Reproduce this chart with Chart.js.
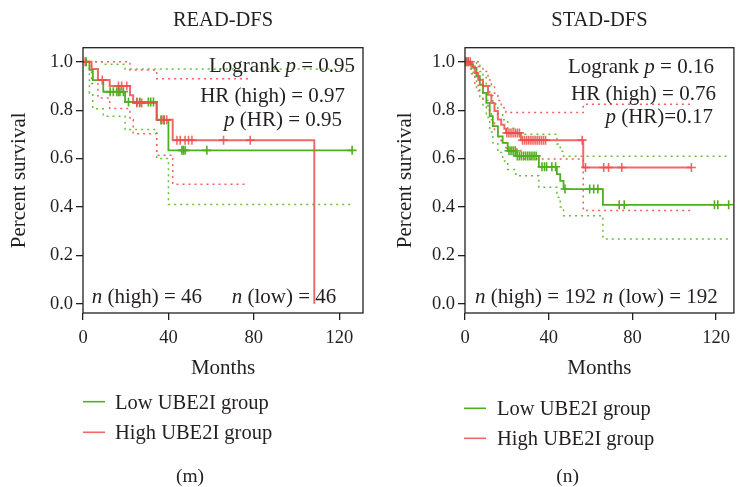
<!DOCTYPE html>
<html>
<head>
<meta charset="utf-8">
<script src="https://cdn.jsdelivr.net/npm/chart.js@4.4.1/dist/chart.umd.min.js"></script>
<style>
  html, body { margin: 0; padding: 0; background: #fff; }
  #wrap { position: relative; width: 740px; height: 487px; overflow: hidden; }
  canvas { position: absolute; top: 0; }
  #cRead { left: 0; }
  #cStad { left: 370px; }
</style>
</head>
<body>
<div id="wrap">
  <canvas id="cRead" width="370" height="487"></canvas>
  <canvas id="cStad" width="370" height="487"></canvas>
</div>
<script>
// ---- shared axis ticks ----
const monthTicks = [0, 40, 80, 120];
const survivalTicks = [0, 0.2, 0.4, 0.6, 0.8, 1.0];
const groupLabels = ['Low UBE2I group', 'High UBE2I group'];

// ---- READ-DFS: Kaplan-Meier steps (time in months, survival fraction) ----
const readLowTime = [0, 3, 4.6, 9.5, 19.7, 34.5, 40, 126];
const readLowSurv = [1, 0.966, 0.924, 0.876, 0.834, 0.759, 0.634, 0.634];
const readLowUpperTime = [0, 9.5, 19.7, 126];
const readLowUpperSurv = [1, 0.99, 0.97, 0.97];
const readLowLowerTime = [0, 3, 4.6, 9.5, 19.7, 34.5, 40, 126];
const readLowLowerSurv = [1, 0.87, 0.806, 0.775, 0.72, 0.60, 0.41, 0.41];
const readLowCensor = [1.5, 12.7, 14.2, 15.8, 16.6, 17.3, 18.9, 21.3, 25.3, 26.6, 30.6, 31.7, 33, 36.5, 38, 46.3, 47, 47.8, 58, 126];

const readHighTime = [0, 4, 7, 12.5, 22, 23.5, 34.5, 42, 108.3];
const readHighSurv = [1, 0.97, 0.925, 0.9, 0.862, 0.83, 0.76, 0.676, 0];
const readHighUpperTime = [0, 22, 34.5, 78.3];
const readHighUpperSurv = [1, 0.966, 0.93, 0.93];
const readHighLowerTime = [0, 4, 7, 12.5, 22, 23.5, 34.5, 42, 76];
const readHighLowerSurv = [1, 0.91, 0.85, 0.807, 0.76, 0.703, 0.614, 0.494, 0.494];
const readHighCensor = [1, 9, 16.6, 18.1, 20.5, 25.2, 26.5, 27.5, 36.9, 37.8, 39.2, 44, 45.5, 47.8, 49.4, 51, 65.8, 78.3];

// ---- STAD-DFS ----
const stadLowTime = [0, 2, 3.9, 5.5, 7.1, 8.6, 10.2, 11.8, 13.3, 15.7, 18, 20.4, 24.3, 35.3, 43.9, 45.5, 47.1, 65.9, 126];
const stadLowSurv = [1, 0.99, 0.975, 0.94, 0.905, 0.871, 0.83, 0.775, 0.734, 0.692, 0.665, 0.632, 0.611, 0.566, 0.536, 0.508, 0.474, 0.409, 0.409];
const stadLowUpperTime = [0, 5.5, 7.1, 8.6, 10.2, 11.8, 13.3, 15.7, 18, 20.4, 24.3, 43.9, 45.5, 47.1, 126];
const stadLowUpperSurv = [1, 0.985, 0.96, 0.935, 0.905, 0.86, 0.825, 0.785, 0.76, 0.725, 0.70, 0.66, 0.63, 0.61, 0.61];
const stadLowLowerTime = [0, 2, 3.9, 5.5, 7.1, 8.6, 10.2, 11.8, 13.3, 15.7, 18, 20.4, 24.3, 35.3, 43.9, 45.5, 47.1, 65.9, 126];
const stadLowLowerSurv = [1, 0.97, 0.94, 0.89, 0.855, 0.815, 0.77, 0.71, 0.665, 0.625, 0.59, 0.555, 0.529, 0.481, 0.44, 0.40, 0.364, 0.268, 0.268];
const stadLowCensor = [0.5, 1.5, 21, 22, 23, 24, 25, 26, 27, 28, 29, 30, 31, 32, 33, 34, 36.8, 38, 39, 41.5, 43.3, 47.8, 59.6, 61.5, 63.5, 73.7, 76.1, 119.2, 120.8, 126];

const stadHighTime = [0, 3.1, 4.7, 6.3, 8.6, 11, 12.6, 14.1, 15.7, 17.3, 18.8, 19.6, 26.7, 56.5, 108.2];
const stadHighSurv = [1, 0.98, 0.953, 0.926, 0.9, 0.864, 0.83, 0.796, 0.761, 0.74, 0.723, 0.706, 0.676, 0.563, 0.563];
const stadHighUpperTime = [0, 6.3, 8.6, 11, 12.6, 14.1, 15.7, 17.3, 19.6, 56.5, 108.2];
const stadHighUpperSurv = [1, 0.98, 0.96, 0.925, 0.9, 0.87, 0.84, 0.81, 0.79, 0.824, 0.824];
const stadHighLowerTime = [0, 3.1, 4.7, 6.3, 8.6, 11, 12.6, 14.1, 15.7, 17.3, 19.6, 26.7, 56.5, 108.2];
const stadHighLowerSurv = [1, 0.95, 0.91, 0.88, 0.84, 0.8, 0.76, 0.72, 0.69, 0.665, 0.64, 0.598, 0.385, 0.385];
const stadHighCensor = [0.5, 1.5, 2.5, 20, 21, 22, 23, 24, 25, 26, 27.5, 28.5, 29.5, 30.5, 31.5, 32.5, 33.5, 34.5, 35.5, 36.5, 37.5, 38.5, 56, 57.6, 66.3, 68.6, 74.9, 108.2];

// ---- statistics text (italic pieces wrapped in arrays) ----
const readStats = [
  ['Logrank ', ['p'], ' = 0.95'],
  ['HR (high) = 0.97'],
  [['p'], ' (HR) = 0.95']
];
const readCounts = [[['n'], ' (high) = 46'], [['n'], ' (low) = 46']];
const stadStats = [
  ['Logrank ', ['p'], ' = 0.16'],
  ['HR (high) = 0.76'],
  [['p'], ' (HR)=0.17']
];
const stadCounts = [[['n'], ' (high) = 192'], [['n'], ' (low) = 192']];

// ---- styling ----
const FAMILY = '"Liberation Serif", "Times New Roman", serif';
const INK = '#231f20';
const GREEN = 'rgb(78,176,28)';
const GREEN_CI = 'rgb(104,192,54)';
const RED = 'rgba(238,78,78,0.85)';
const RED_CI = 'rgb(244,96,96)';

Chart.defaults.font.family = FAMILY;
Chart.defaults.color = INK;

function stepAt(times, surv, t) {
  let v = surv[0];
  for (let i = 0; i < times.length; i++) { if (times[i] <= t) v = surv[i]; }
  return v;
}
const pts = (times, surv) => times.map((t, i) => ({ x: t, y: surv[i] }));

function curve(times, surv, color, width, dash, order) {
  return {
    data: pts(times, surv), borderColor: color, borderWidth: width,
    borderDash: dash || [], stepped: 'before', pointRadius: 0,
    fill: false, order: order, borderCapStyle: 'butt'
  };
}
function censor(times, stepTimes, stepSurv, color, order) {
  return {
    type: 'scatter', showLine: false,
    data: times.map(t => ({ x: t, y: stepAt(stepTimes, stepSurv, t) })),
    pointStyle: 'cross', pointRadius: 4.5, borderWidth: 1.6,
    borderColor: color, backgroundColor: color, order: order
  };
}

function drawRich(ctx, parts, x, y, align, size) {
  const segs = parts.map(p => Array.isArray(p) ? { t: p[0], it: true } : { t: p, it: false });
  let total = 0;
  segs.forEach(s => {
    ctx.font = (s.it ? 'italic ' : '') + size + 'px ' + FAMILY;
    s.w = ctx.measureText(s.t).width; total += s.w;
  });
  let cx = align === 'right' ? x - total : (align === 'center' ? x - total / 2 : x);
  ctx.textAlign = 'left';
  ctx.textBaseline = 'alphabetic';
  segs.forEach(s => {
    ctx.font = (s.it ? 'italic ' : '') + size + 'px ' + FAMILY;
    ctx.fillText(s.t, cx, y); cx += s.w;
  });
}

// frame, statistics, group counts, legend and panel letter
const panelDecor = {
  id: 'panelDecor',
  afterDatasetsDraw(chart, args, o) {
    const { ctx, chartArea: a } = chart;
    ctx.save();
    ctx.strokeStyle = INK; ctx.lineWidth = 1.3;
    ctx.strokeRect(a.left, a.top, a.right - a.left, a.bottom - a.top);
    ctx.fillStyle = INK;
    o.stats.forEach((parts, i) => drawRich(ctx, parts, a.right - o.statRight[i], a.top + o.statTop[i], 'right', 21));
    o.counts.forEach((parts, i) => drawRich(ctx, parts, a.left + o.countLeft[i], a.bottom - 10, 'left', 21));
    ctx.restore();
  },
  afterDraw(chart, args, o) {
    const { ctx } = chart;
    ctx.save();
    const cols = [GREEN, RED];
    groupLabels.forEach((lab, i) => {
      const ly = o.legendY[i];
      ctx.strokeStyle = cols[i]; ctx.lineWidth = 1.6;
      ctx.beginPath(); ctx.moveTo(o.legendX, ly); ctx.lineTo(o.legendX + 22, ly); ctx.stroke();
      ctx.fillStyle = INK;
      drawRich(ctx, [lab], o.legendX + o.legendGap, ly + 6.8, 'left', 20.5);
    });
    ctx.fillStyle = INK;
    drawRich(ctx, [o.letter], o.letterX, 482, 'center', 19.5);
    ctx.restore();
  }
};

function makePanel(id, cfg) {
  const datasets = [
    curve(cfg.redT, cfg.redS, RED, 2, null, 1),
    censor(cfg.redC, cfg.redT, cfg.redS, RED, 1),
    curve(cfg.grnT, cfg.grnS, GREEN, 1.8, null, 3),
    censor(cfg.grnC, cfg.grnT, cfg.grnS, GREEN, 3),
    curve(cfg.redUT, cfg.redUS, RED_CI, 1.5, [2, 4], 5),
    curve(cfg.redLT, cfg.redLS, RED_CI, 1.5, [2, 4], 5),
    curve(cfg.grnUT, cfg.grnUS, GREEN_CI, 1.5, [2, 4], 6),
    curve(cfg.grnLT, cfg.grnLS, GREEN_CI, 1.5, [2, 4], 6)
  ];
  return new Chart(document.getElementById(id), {
    type: 'line',
    data: { datasets },
    plugins: [panelDecor],
    options: {
      responsive: false, animation: false, events: [],
      layout: { padding: { left: 0, top: 0, right: cfg.padRight, bottom: 104 } },
      scales: {
        x: {
          type: 'linear', min: 0, max: cfg.xMax,
          afterBuildTicks: s => { s.ticks = monthTicks.map(v => ({ value: v })); },
          afterFit: s => { s.height = 70; },
          ticks: { font: { size: 18.5 }, color: INK, padding: 7, maxRotation: 0, autoSkip: false },
          grid: { drawOnChartArea: false, drawTicks: true, tickLength: 7, color: INK, lineWidth: 1.3 },
          border: { display: false },
          title: { display: true, text: 'Months', font: { size: 21 }, color: INK, padding: { top: 0, bottom: 1.5 } }
        },
        y: {
          type: 'linear', min: -0.038, max: 1.058,
          afterBuildTicks: s => { s.ticks = survivalTicks.map(v => ({ value: v })); },
          afterFit: s => { s.width = cfg.yWidth; },
          ticks: { font: { size: 18.5 }, color: INK, padding: 3, callback: v => Number(v).toFixed(1) },
          grid: { drawOnChartArea: false, drawTicks: true, tickLength: 7, color: INK, lineWidth: 1.3 },
          border: { display: false },
          title: { display: true, text: 'Percent survival', font: { size: 21 }, color: INK, padding: { top: cfg.yTitlePad, bottom: 0 } }
        }
      },
      plugins: {
        legend: { display: false },
        tooltip: { enabled: false },
        title: {
          display: true, text: cfg.title, fullSize: false, color: INK,
          font: { size: 20.5, weight: 'normal' }, padding: { top: 8.5, bottom: 14.6 }
        },
        panelDecor: cfg.decor
      }
    }
  });
}

makePanel('cRead', {
  title: 'READ-DFS', xMax: 131.1, padRight: 7, yWidth: 83, yTitlePad: 7,
  redT: readHighTime, redS: readHighSurv, redC: readHighCensor,
  redUT: readHighUpperTime, redUS: readHighUpperSurv, redLT: readHighLowerTime, redLS: readHighLowerSurv,
  grnT: readLowTime, grnS: readLowSurv, grnC: readLowCensor,
  grnUT: readLowUpperTime, grnUS: readLowUpperSurv, grnLT: readLowLowerTime, grnLS: readLowLowerSurv,
  decor: {
    stats: readStats, statRight: [8, 18, 21], statTop: [24.3, 54, 78.3],
    counts: readCounts, countLeft: [8.7, 148.7],
    legendX: 83, legendGap: 32, legendY: [401.7, 432.3],
    letter: '(m)', letterX: 190
  }
});

makePanel('cStad', {
  title: 'STAD-DFS', xMax: 128.5, padRight: 2, yWidth: 95, yTitlePad: 23,
  redT: stadHighTime, redS: stadHighSurv, redC: stadHighCensor,
  redUT: stadHighUpperTime, redUS: stadHighUpperSurv, redLT: stadHighLowerTime, redLS: stadHighLowerSurv,
  grnT: stadLowTime, grnS: stadLowSurv, grnC: stadLowCensor,
  grnUT: stadLowUpperTime, grnUS: stadLowUpperSurv, grnLT: stadLowLowerTime, grnLS: stadLowLowerSurv,
  decor: {
    stats: stadStats, statRight: [20, 18, 21], statTop: [25, 52.3, 75.6],
    counts: stadCounts, countLeft: [10, 137.7],
    legendX: 94, legendGap: 33, legendY: [408.3, 438.3],
    letter: '(n)', letterX: 197.7
  }
});
</script>
</body>
</html>
